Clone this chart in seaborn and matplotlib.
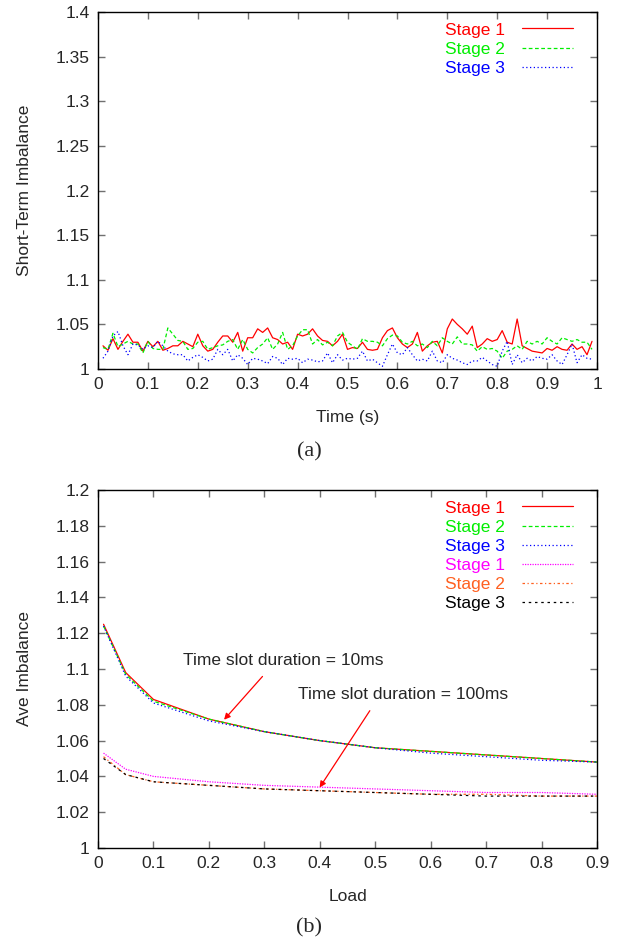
import pandas as pd
import matplotlib
matplotlib.use("Agg")
import matplotlib.pyplot as plt
from matplotlib.ticker import FuncFormatter, MultipleLocator
import seaborn as sns

# =========================
# DATA
# =========================

time_s = [round(0.01 * i, 2) for i in range(1, 100)]

stage1_short = [
    1.026, 1.021, 1.034, 1.022, 1.031, 1.039, 1.030, 1.030, 1.020, 1.031,
    1.025, 1.031, 1.021, 1.023, 1.026, 1.026, 1.031, 1.028, 1.025, 1.039,
    1.026, 1.020, 1.022, 1.030, 1.037, 1.037, 1.030, 1.041, 1.020, 1.035,
    1.035, 1.045, 1.041, 1.046, 1.035, 1.033, 1.028, 1.030, 1.022, 1.039,
    1.037, 1.039, 1.045, 1.037, 1.032, 1.031, 1.026, 1.031, 1.039, 1.022,
    1.024, 1.023, 1.030, 1.022, 1.021, 1.022, 1.035, 1.043, 1.046, 1.035,
    1.028, 1.024, 1.028, 1.041, 1.020, 1.026, 1.030, 1.031, 1.018, 1.045,
    1.056, 1.050, 1.045, 1.039, 1.048, 1.024, 1.028, 1.034, 1.031, 1.033,
    1.043, 1.030, 1.028, 1.056, 1.026, 1.023, 1.020, 1.019, 1.018, 1.023,
    1.021, 1.025, 1.022, 1.021, 1.028, 1.022, 1.025, 1.016, 1.031,
]

stage2_short = [
    1.024, 1.022, 1.040, 1.025, 1.028, 1.031, 1.028, 1.028, 1.018, 1.031,
    1.023, 1.022, 1.022, 1.046, 1.039, 1.032, 1.031, 1.022, 1.023, 1.030,
    1.031, 1.022, 1.024, 1.026, 1.027, 1.031, 1.033, 1.022, 1.033, 1.022,
    1.018, 1.024, 1.028, 1.035, 1.022, 1.028, 1.041, 1.022, 1.026, 1.037,
    1.044, 1.044, 1.028, 1.033, 1.027, 1.030, 1.026, 1.037, 1.041, 1.030,
    1.026, 1.022, 1.034, 1.031, 1.031, 1.030, 1.026, 1.034, 1.038, 1.037,
    1.030, 1.028, 1.031, 1.026, 1.028, 1.024, 1.031, 1.026, 1.035, 1.031,
    1.028, 1.036, 1.028, 1.028, 1.027, 1.020, 1.025, 1.022, 1.023, 1.020,
    1.012, 1.020, 1.022, 1.026, 1.022, 1.031, 1.028, 1.031, 1.028, 1.035,
    1.031, 1.028, 1.035, 1.033, 1.031, 1.033, 1.030, 1.030, 1.022,
]

stage3_short = [
    1.012, 1.020, 1.037, 1.042, 1.026, 1.016, 1.028, 1.027, 1.022, 1.026,
    1.024, 1.031, 1.026, 1.020, 1.017, 1.016, 1.016, 1.009, 1.013, 1.016,
    1.013, 1.009, 1.011, 1.022, 1.016, 1.022, 1.009, 1.016, 1.012, 1.005,
    1.012, 1.011, 1.009, 1.006, 1.014, 1.012, 1.005, 1.012, 1.011, 1.012,
    1.007, 1.011, 1.010, 1.008, 1.009, 1.018, 1.007, 1.016, 1.010, 1.012,
    1.011, 1.012, 1.020, 1.009, 1.011, 1.007, 1.003, 1.016, 1.028, 1.018,
    1.016, 1.024, 1.016, 1.009, 1.011, 1.009, 1.020, 1.009, 1.007, 1.016,
    1.012, 1.010, 1.007, 1.005, 1.009, 1.009, 1.013, 1.009, 1.005, 1.003,
    1.020, 1.031, 1.005, 1.016, 1.007, 1.012, 1.009, 1.014, 1.012, 1.011,
    1.016, 1.009, 1.005, 1.016, 1.028, 1.007, 1.016, 1.012, 1.011,
]

load = [0.01, 0.05, 0.1, 0.2, 0.3, 0.4, 0.5, 0.6, 0.7, 0.8, 0.9]

s1_10ms = [1.125, 1.098, 1.083, 1.072, 1.065, 1.060, 1.056, 1.054, 1.052, 1.050, 1.048]
s2_10ms = [1.124, 1.097, 1.082, 1.072, 1.065, 1.060, 1.056, 1.054, 1.052, 1.050, 1.048]
s3_10ms = [1.124, 1.096, 1.081, 1.071, 1.065, 1.060, 1.056, 1.053, 1.051, 1.049, 1.048]
s1_100ms = [1.053, 1.044, 1.040, 1.037, 1.035, 1.034, 1.033, 1.032, 1.031, 1.031, 1.030]
s2_100ms = [1.051, 1.041, 1.037, 1.035, 1.033, 1.032, 1.031, 1.030, 1.030, 1.029, 1.029]
s3_100ms = [1.050, 1.041, 1.037, 1.035, 1.033, 1.032, 1.031, 1.030, 1.029, 1.029, 1.029]

# =========================
# STYLE
# =========================

FS = 12.5

sns.set_style("ticks")
plt.rcParams["font.family"] = ["Liberation Sans", "DejaVu Sans"]
plt.rcParams["font.size"] = FS
plt.rcParams["axes.linewidth"] = 1.0

fmt = FuncFormatter(lambda v, p: "%g" % round(v, 4))

fig = plt.figure(figsize=(6.18, 9.44), dpi=100)
ax1 = fig.add_axes([98 / 618, 1 - 369 / 944, 499 / 618, 357 / 944])
ax2 = fig.add_axes([98 / 618, 1 - 848 / 944, 499 / 618, 358 / 944])


def style_axes(ax):
    ax.tick_params(direction="in", top=True, right=True, length=5,
                   width=1.0, color="#707070", labelsize=FS, pad=6)
    for sp in ax.spines.values():
        sp.set_color("black")
    ax.xaxis.set_major_formatter(fmt)
    ax.yaxis.set_major_formatter(fmt)


def add_legend(ax):
    ax.legend(loc="upper right", frameon=False, markerfirst=False, labelcolor="linecolor",
              handlelength=2.9, handletextpad=1.0, labelspacing=0.23,
              borderaxespad=0.3, borderpad=0.3, fontsize=FS,
              bbox_to_anchor=(1 - 14 / 499, 1))


# =========================
# (a) SHORT-TERM IMBALANCE
# =========================

df_a = pd.DataFrame({"t": time_s, "s1": stage1_short, "s2": stage2_short, "s3": stage3_short})

sns.lineplot(data=df_a, x="t", y="s1", ax=ax1, color="#ff0000", lw=0.9, label="Stage 1")
sns.lineplot(data=df_a, x="t", y="s2", ax=ax1, color="#00ee00", lw=0.9,
             linestyle=(0, (3, 2)), label="Stage 2")
sns.lineplot(data=df_a, x="t", y="s3", ax=ax1, color="#0000ff", lw=0.9,
             linestyle=(0, (1, 2)), label="Stage 3")

ax1.set_xlim(0, 1)
ax1.set_ylim(1, 1.4)
ax1.xaxis.set_major_locator(MultipleLocator(0.1))
ax1.yaxis.set_major_locator(MultipleLocator(0.05))
ax1.set_xlabel("Time (s)", labelpad=13)
ax1.set_ylabel("Short-Term Imbalance", labelpad=17)
style_axes(ax1)
add_legend(ax1)

# =========================
# (b) AVE IMBALANCE
# =========================

df_b = pd.DataFrame({"load": load, "a1": s1_10ms, "a2": s2_10ms, "a3": s3_10ms,
                     "b1": s1_100ms, "b2": s2_100ms, "b3": s3_100ms})

sns.lineplot(data=df_b, x="load", y="a1", ax=ax2, color="#ff0000", lw=0.9, label="Stage 1")
sns.lineplot(data=df_b, x="load", y="a2", ax=ax2, color="#00ee00", lw=0.9,
             linestyle=(0, (3, 2)), label="Stage 2")
sns.lineplot(data=df_b, x="load", y="a3", ax=ax2, color="#0000ff", lw=0.9,
             linestyle=(0, (1, 2)), label="Stage 3")
sns.lineplot(data=df_b, x="load", y="b1", ax=ax2, color="#ff00ff", lw=0.9,
             linestyle=(0, (1, 1)), label="Stage 1")
sns.lineplot(data=df_b, x="load", y="b2", ax=ax2, color="#ff6020", lw=0.9,
             linestyle=(0, (2, 2, 1, 2)), label="Stage 2")
sns.lineplot(data=df_b, x="load", y="b3", ax=ax2, color="#000000", lw=0.9,
             linestyle=(0, (2, 3)), label="Stage 3")

ax2.set_xlim(0, 0.9)
ax2.set_ylim(1, 1.2)
ax2.xaxis.set_major_locator(MultipleLocator(0.1))
ax2.yaxis.set_major_locator(MultipleLocator(0.02))
ax2.set_xlabel("Load", labelpad=13)
ax2.set_ylabel("Ave Imbalance", labelpad=17)
style_axes(ax2)
add_legend(ax2)

ax2.annotate("", xy=(0.224, 1.0705), xytext=(0.30, 1.097),
             arrowprops=dict(arrowstyle="-|>", color="red", lw=0.9, mutation_scale=9))
ax2.text(0.153, 1.105, "Time slot duration = 10ms", ha="left", va="center", fontsize=FS)
ax2.annotate("", xy=(0.397, 1.0325), xytext=(0.493, 1.078),
             arrowprops=dict(arrowstyle="-|>", color="red", lw=0.9, mutation_scale=9))
ax2.text(0.36, 1.0855, "Time slot duration = 100ms", ha="left", va="center", fontsize=FS)

# captions
fig.text(0.5, 1 - 452 / 944, "(a)", ha="center", va="center",
         family=["Liberation Serif", "DejaVu Serif"], fontsize=16)
fig.text(0.5, 1 - 928 / 944, "(b)", ha="center", va="center",
         family=["Liberation Serif", "DejaVu Serif"], fontsize=16)

plt.savefig("out.png", dpi=100)
